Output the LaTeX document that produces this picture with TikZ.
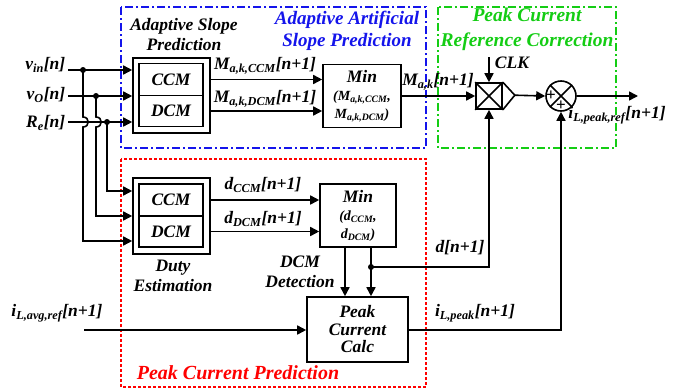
\documentclass[tikz,border=0pt]{standalone}
\usepackage{fontspec}
\setmainfont{Liberation Serif}
\usetikzlibrary{arrows.meta}
\definecolor{boxblue}{RGB}{20,20,235}
\definecolor{boxgreen}{RGB}{20,205,20}
\definecolor{boxred}{RGB}{255,0,0}
\newcommand{\lowtxt}[1]{\textsubscript{#1}}
\newcommand{\bigtxt}{\fontsize{17.5}{20}\selectfont}
\newcommand{\midtxt}{\fontsize{14}{15}\selectfont}

\begin{document}
\begin{tikzpicture}[x=1pt,y=-1pt,
  font=\bigtxt\bfseries\itshape,
  line width=1.6pt,
  blk/.style={draw, line width=1.6pt, inner sep=0pt, align=center},
  arr/.style={-{Triangle[length=9pt,width=9pt]}},
  lbl/.style={inner sep=0pt, align=center},
  jdot/.style={circle, fill, inner sep=0pt, minimum size=6pt},
  dashdot/.style={line width=1.6pt, dash pattern=on 8pt off 3pt on 2pt off 3pt},
  plus/.style={inner sep=0pt, font=\fontsize{17}{17}\selectfont\bfseries},
]
\useasboundingbox (0,0) rectangle (678,389);

% region frames
\draw[boxblue, dashdot] (121,7) rectangle (426,148);
\draw[boxgreen, dashdot] (438,7) rectangle (616,148);
\draw[boxred, line width=1.6pt, dash pattern=on 3pt off 2pt] (121,159) rectangle (426,387);

\node[lbl, text=boxblue, font=\fontsize{19}{22}\selectfont\bfseries\itshape] (tblue) at (347,31) {Adaptive Artificial\\Slope Prediction};
\node[lbl, text=boxgreen, font=\fontsize{19.5}{25}\selectfont\bfseries\itshape] (tgreen) at (527,29) {Peak Current\\Reference Correction};
\node[lbl, text=boxred, font=\fontsize{20}{22}\selectfont\bfseries\itshape] (tred) at (238,373) {Peak Current Prediction};

% adaptive slope prediction block
\node[blk, minimum width=77pt, minimum height=75pt] (aspo) at (171.5,95.5) {};
\node[blk, minimum width=64pt, minimum height=32pt] (aspc) at (171,79.5) {CCM};
\node[blk, minimum width=64pt, minimum height=31pt] (aspd) at (171,111) {DCM};
\node[lbl] (tasp) at (184,35) {Adaptive Slope\\Prediction};

% duty estimation block
\node[blk, minimum width=77pt, minimum height=76pt] (duo) at (171.5,216) {};
\node[blk, minimum width=64pt, minimum height=32pt] (ducc) at (171,200) {CCM};
\node[blk, minimum width=64pt, minimum height=31pt] (dudc) at (171,231.5) {DCM};
\node[lbl] (tduty) at (173,276) {Duty\\Estimation};

% min selectors
\node[blk, minimum width=78pt, minimum height=63pt] (min1) at (362,96) {Min\\[-2pt]{\midtxt(M\lowtxt{a,k,CCM},}\\[-2pt]{\midtxt M\lowtxt{a,k,DCM})}};
\node[blk, minimum width=76pt, minimum height=63pt] (min2) at (358,215.5) {Min\\[-2pt]{\midtxt(d\lowtxt{CCM},}\\[-2pt]{\midtxt d\lowtxt{DCM})}};
\node[lbl] (tdcm) at (300,272) {DCM\\Detection};

% peak current calculation
\node[blk, minimum width=101pt, minimum height=65pt, font=\fontsize{17.5}{17.5}\selectfont\bfseries\itshape] (pcc) at (357.5,329.5) {Peak\\Current\\Calc};

% sampler and summing junction
\node[draw, line width=1.6pt, inner sep=0pt, minimum size=26pt] (samp) at (489,96) {};
\draw (samp.north east) -- ++(12,13) coordinate (samptip) -- (samp.south east);
\draw (samp.north west) -- (samp.south east) (samp.south west) -- (samp.north east);
\node[draw, circle, line width=1.6pt, inner sep=0pt, minimum size=30pt] (sum) at (561,96) {};
\draw (sum.north west) -- (sum.south east) (sum.south west) -- (sum.north east);
\node[plus] (pl1) at (551,96) {+};
\node[plus] (pl2) at (561,106) {+};

% inputs
\node[lbl, anchor=east] (vinl) at (66,65) {v\lowtxt{in}[n]};
\node[lbl, anchor=east] (vol) at (66,95) {v\lowtxt{O}[n]};
\node[lbl, anchor=east] (rel) at (66,123) {R\lowtxt{e}[n]};
\coordinate (vin0) at (68,70);
\coordinate (vo0) at (68,96);
\coordinate (re0) at (68,122);
\coordinate (jvin) at (83,70);
\coordinate (jvo) at (96,96);
\coordinate (jre) at (107,122);

\draw[arr] (vin0) -- (aspo.west |- vin0);
\draw[arr] (vo0) -- (aspo.west |- vo0);
\draw[arr] (re0) -- (aspo.west |- re0);
\node[jdot] (dvin) at (jvin) {};
\node[jdot] (dvo) at (jvo) {};
\node[jdot] (dre) at (jre) {};

% branches down to the duty estimation, hopping over R_e
\draw[arr] (jvin) -- (83,117) .. controls (90,117) and (90,127) .. (83,127) -- (83,241) -- (duo.west |- 0,241);
\draw[arr] (jvo) -- (96,117) .. controls (103,117) and (103,127) .. (96,127) -- (96,216) -- (duo.west |- 0,216);
\draw[arr] (jre) -- (107,191) -- (duo.west |- 0,191);

% slope paths
\draw[arr] (aspo.east |- aspc) -- (min1.west |- aspc);
\draw[arr] (aspo.east |- aspd) -- (min1.west |- aspd);
\node[lbl] (lmccm) at (265,66) {M\lowtxt{a,k,CCM}[n+1]};
\node[lbl] (lmdcm) at (265,99) {M\lowtxt{a,k,DCM}[n+1]};
\draw[arr] (min1.east) -- (samp.west);
\node[lbl] (lmak) at (438,82) {M\lowtxt{a,k}[n+1]};

% clock
\coordinate (clk) at (489,57);
\draw[arr] (clk) -- (samp.north);
\node[lbl] (lclk) at (512,63) {CLK};

% sampler to sum, output
\draw[arr] (samptip) -- (sum.west);
\coordinate (out) at (638,96);
\draw[arr] (sum.east) -- (out);
\node[lbl] (lout) at (617,115) {i\lowtxt{L,peak,ref}[n+1]};

% duty paths
\draw[arr] (duo.east |- ducc) -- (min2.west |- ducc);
\draw[arr] (duo.east |- dudc) -- (min2.west |- dudc);
\node[lbl] (ldccm) at (263,185) {d\lowtxt{CCM}[n+1]};
\node[lbl] (lddcm) at (263,219) {d\lowtxt{DCM}[n+1]};

% min to peak current calc
\coordinate (dx1) at (345,0);
\coordinate (dx2) at (371,0);
\draw[arr] (min2.south -| dx1) -- (pcc.north -| dx1);
\draw[arr] (min2.south -| dx2) -- (pcc.north -| dx2);
\coordinate (dj) at (371,267);
\node[jdot] (ddj) at (dj) {};
\draw[arr] (dj) -| (samp.south);
\node[lbl] (ld) at (460,248) {d[n+1]};

% average current reference input
\node[lbl] (liavg) at (57,313) {i\lowtxt{L,avg,ref}[n+1]};
\coordinate (iavg) at (84,330);
\draw[arr] (iavg) -- (pcc.west |- iavg);

% peak current to the sum
\draw[arr] (pcc.east |- iavg) -| (sum.south);
\node[lbl] (lipk) at (475,313) {i\lowtxt{L,peak}[n+1]};
\end{tikzpicture}
\end{document}
